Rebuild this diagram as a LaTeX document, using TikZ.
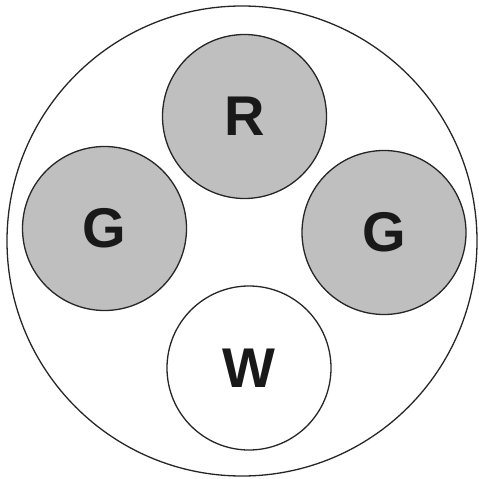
\documentclass[tikz,border=0pt]{standalone}
\usepackage{fontspec}
\setmainfont{Liberation Sans}
\begin{document}
\begin{tikzpicture}[x=1pt,y=-1pt,
  outerc/.style={draw=black!85,line width=1.3pt,circle,minimum size=470pt,inner sep=0pt},
  wire/.style={draw=black!85,line width=1.3pt,circle,minimum size=164pt,inner sep=0pt},
  greywire/.style={wire,fill=gray!50},
  lbl/.style={font=\fontsize{56}{56}\selectfont\bfseries,text=black!90,inner sep=0pt}]
\useasboundingbox (0,0) rectangle (479,479);
\node[outerc] (outer) at (242,241) {};
\node[greywire] (r) at (244.5,116.5) {};
\node[greywire] (gl) at (104.5,228.5) {};
\node[greywire] (gr) at (384,232.5) {};
\node[wire,fill=white] (w) at (249,368) {};
\node[lbl] (rl) at (r.center) {R};
\node[lbl] (gll) at (gl.center) {G};
\node[lbl] (grl) at (gr.center) {G};
\node[lbl] (wl) at (w.center) {W};
\end{tikzpicture}
\end{document}
